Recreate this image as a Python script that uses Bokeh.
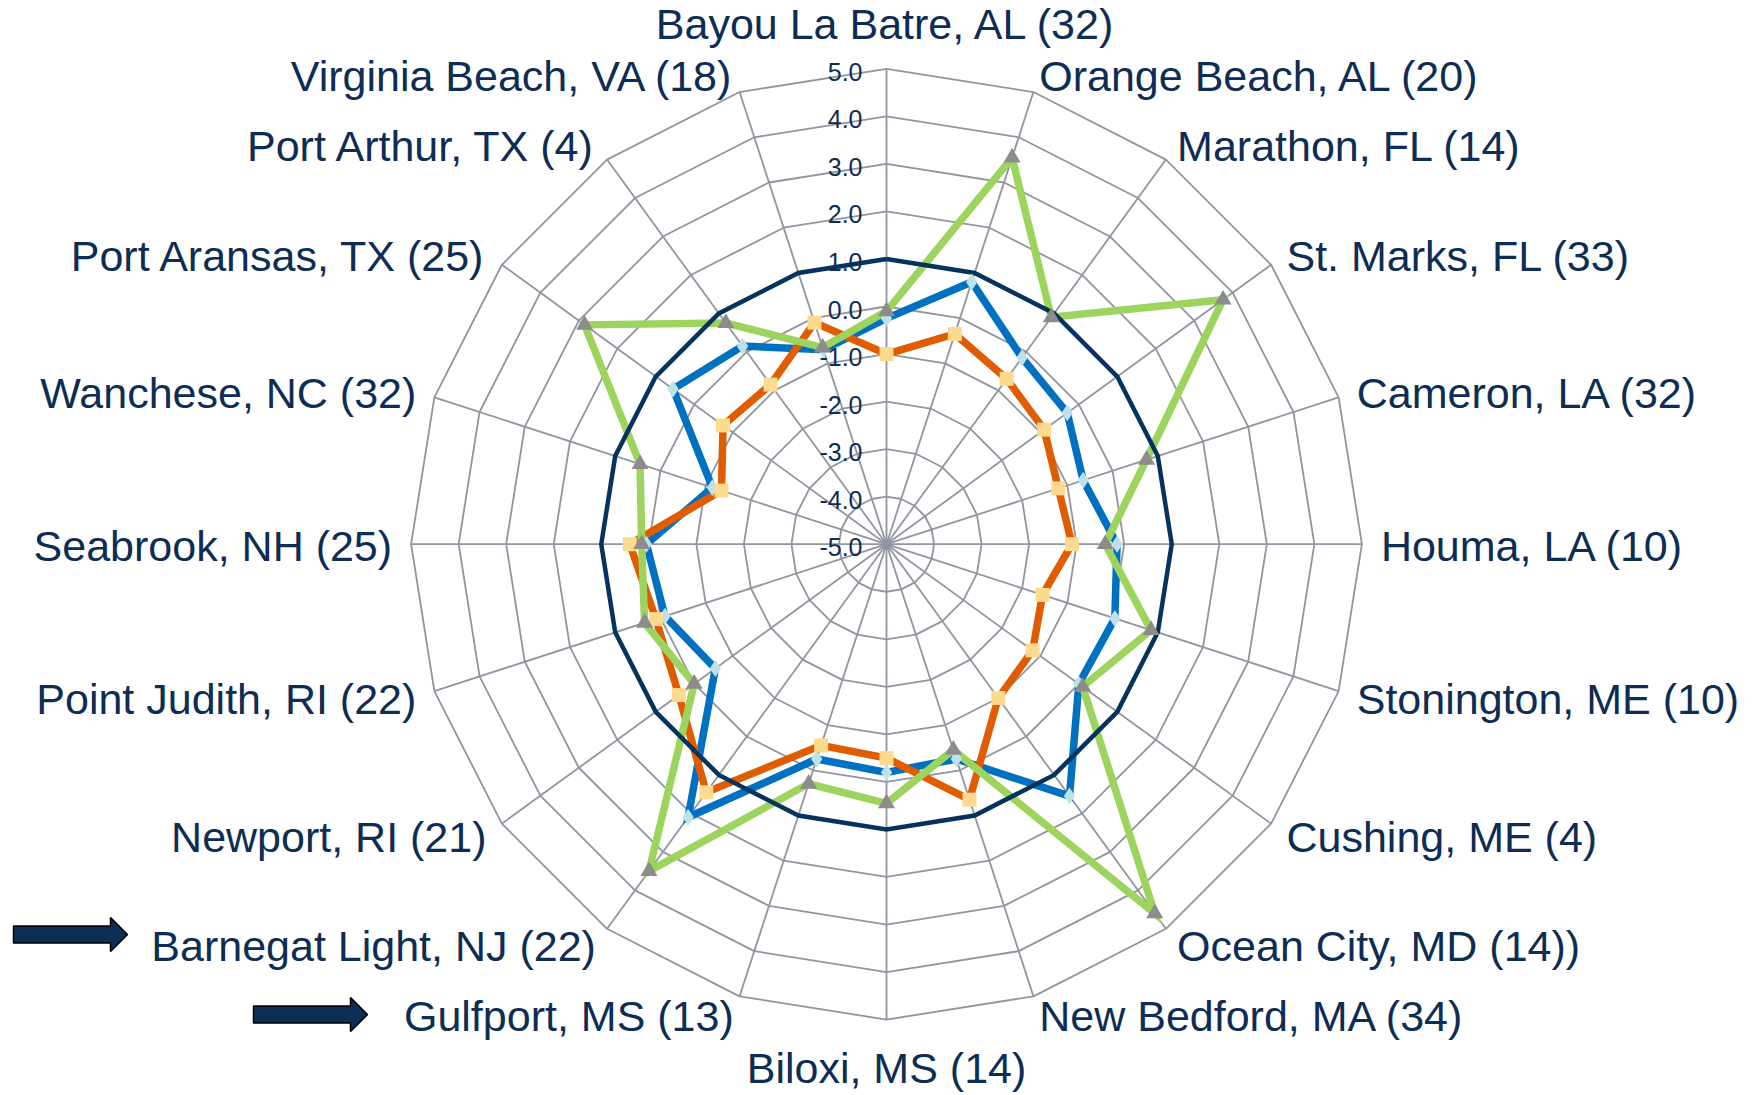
import numpy as np
from bokeh.plotting import figure
from bokeh.models import Range1d, ColumnDataSource
from bokeh.embed import file_html
from bokeh.resources import INLINE
from bokeh.core.properties import value

# ---------------- data ----------------
categories = [
    "Bayou La Batre, AL (32)", "Orange Beach, AL (20)", "Marathon, FL (14)",
    "St. Marks, FL (33)", "Cameron, LA (32)", "Houma, LA (10)",
    "Stonington, ME (10)", "Cushing, ME (4)", "Ocean City, MD (14))",
    "New Bedford, MA (34)", "Biloxi, MS (14)", "Gulfport, MS (13)",
    "Barnegat Light, NJ (22)", "Newport, RI (21)", "Point Judith, RI (22)",
    "Seabrook, NH (25)", "Wanchese, NC (32)", "Port Aransas, TX (25)",
    "Port Arthur, TX (4)", "Virginia Beach, VA (18)",
]
blue_vals = [-0.25, 0.8, -0.15, -0.3, -0.65, -0.15, 0.05, 0.0, 1.55, -0.25,
             -0.2, -0.25, 2.1, -0.55, -0.1, 0.05, -1.15, 0.55, 0.15, -0.7]
orange_vals = [-1.0, -0.35, -0.7, -0.9, -1.2, -1.1, -1.55, -1.2, -1.0, 0.65,
               -0.5, -0.55, 1.45, 0.4, 0.1, 0.4, -1.35, -0.75, -0.85, -0.1]
green_vals = [-0.1, 3.55, 0.9, 3.75, 0.75, -0.4, 0.85, 0.1, 4.6, -0.45,
              0.45, 0.3, 3.5, 0.0, 0.35, 0.15, 0.45, 2.85, 0.75, -0.65]
ref_vals = [1.0] * 20
tick_values = [-5, -4, -3, -2, -1, 0, 1, 2, 3, 4, 5]
tick_labels = ["-5.0", "-4.0", "-3.0", "-2.0", "-1.0", "0.0",
               "1.0", "2.0", "3.0", "4.0", "5.0"]
axis_min = -5.0
axis_max = 5.0

# ---------------- layout ----------------
W, H = 1758, 1095
U = 47.54              # px per value unit
CX, CY = 886.0, 543.7  # centre inside the figure (px from left / top)

TEXT = "#0E2D54"
GRID = "#9295A0"
FONT = "Liberation Sans"

n = len(categories)
theta = np.arange(n) * 2 * np.pi / n
sin_t, cos_t = np.sin(theta), np.cos(theta)


def polar(vals):
    r = np.asarray(vals, dtype=float) - axis_min
    return list(r * sin_t), list(r * cos_t)


def closed(a):
    return list(a) + [a[0]]


p = figure(width=W, height=H,
           x_range=Range1d(-CX / U, (W - CX) / U),
           y_range=Range1d(-(H - CY) / U, CY / U),
           output_backend="svg", toolbar_location=None,
           x_axis_location=None, y_axis_location=None,
           min_border=0, background_fill_color="white",
           border_fill_color="white")
p.grid.visible = False
p.outline_line_color = None

R = axis_max - axis_min

# grid rings
ring_xs, ring_ys = [], []
for tv in tick_values[1:]:
    rr = tv - axis_min
    ring_xs.append(closed(list(rr * sin_t)))
    ring_ys.append(closed(list(rr * cos_t)))
p.multi_line(ring_xs, ring_ys, line_color=GRID, line_width=1.8)

# spokes
spoke_xs = [[0, R * s] for s in sin_t]
spoke_ys = [[0, R * c] for c in cos_t]
p.multi_line(spoke_xs, spoke_ys, line_color=GRID, line_width=1.8)

# series lines
series = [
    (blue_vals, "#0070C0", 7.5),
    (orange_vals, "#E05C00", 7.5),
    (green_vals, "#9DD45E", 7.5),
    (ref_vals, "#05335E", 4.5),
]
for vals, col, lw in series:
    x, y = polar(vals)
    p.line(closed(x), closed(y), line_color=col, line_width=lw, line_join="miter")

# markers
bx, by = polar(blue_vals)
p.scatter(bx, by, marker="diamond", size=17, fill_color="#BDE2EC", line_color=None)
ox, oy = polar(orange_vals)
p.scatter(ox, oy, marker="square", size=14, fill_color="#FDDB8E", line_color=None)
gx, gy = polar(green_vals)
p.scatter(gx, gy, marker="triangle", size=17, fill_color="#8C8C8C", line_color=None)

# value axis labels
p.text(x=[-24 / U] * len(tick_values),
       y=[tv - axis_min for tv in tick_values],
       text=tick_labels, text_align="right", text_baseline="middle",
       y_offset=3, text_font=value(FONT), text_font_size="25px",
       text_color=TEXT)

# category labels
RL = R + 19 / U
aligns, baselines, yoffs = [], [], []
for i in range(n):
    s = sin_t[i]
    aligns.append("left" if s > 0.01 else ("right" if s < -0.01 else "center"))
    if i == 0:
        baselines.append("bottom"); yoffs.append(-2)
    elif i == n // 2:
        baselines.append("top"); yoffs.append(5)
    else:
        baselines.append("middle"); yoffs.append(2)
lab_src = ColumnDataSource(dict(x=list(RL * sin_t), y=list(RL * cos_t),
                                text=categories, align=aligns,
                                baseline=baselines, yoff=yoffs))
p.text(x="x", y="y", text="text", source=lab_src, text_align="align",
       text_baseline="baseline", y_offset="yoff", text_font=value(FONT),
       text_font_size="43px", text_color=TEXT)

# block arrows pointing at two labels (page px geometry -> data)
def px2d(px, py):
    return (px - CX) / U, (CY - py) / U


def block_arrow(x0, x1, yc, shaft_h, head_h, head_l):
    pts = [(x0, yc - shaft_h / 2), (x1 - head_l, yc - shaft_h / 2),
           (x1 - head_l, yc - head_h / 2), (x1, yc),
           (x1 - head_l, yc + head_h / 2), (x1 - head_l, yc + shaft_h / 2),
           (x0, yc + shaft_h / 2)]
    d = [px2d(a, b) for a, b in pts]
    return [q[0] for q in d], [q[1] for q in d]


ax1 = block_arrow(13, 127, 934, 17, 34, 17)
ax2 = block_arrow(253, 367, 1014, 17, 34, 17)
p.patches([ax1[0], ax2[0]], [ax1[1], ax2[1]], fill_color="#0B2E55",
          line_color="black", line_width=1.5)

open("out.html", "w").write(file_html(p, INLINE))
